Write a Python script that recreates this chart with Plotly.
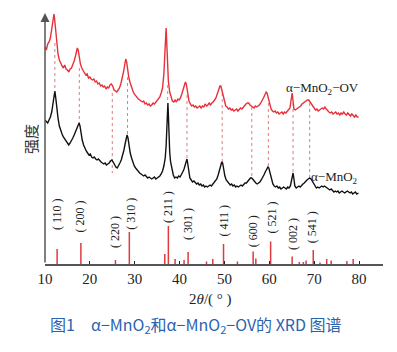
import plotly.graph_objects as go

# ---- data (2theta in degrees, intensity in arbitrary units) ----
red_curve = [
    (10.0,217),(10.3,214),(10.6,220),(10.9,222),(11.2,226),(11.5,236),(11.7,242),(11.9,249),(12.0,250),(12.1,247),
    (12.3,238),(12.5,226),(12.7,218),(12.9,210),(13.2,204),(13.5,200),(13.8,198),(14.1,196),(14.4,199),(14.7,195),
    (15.0,194),(15.3,192),(15.6,195),(15.9,196),(16.2,199),(16.5,203),(16.8,208),(17.0,213),(17.2,216),(17.4,214),
    (17.6,207),(17.9,200),(18.2,196),(18.5,193),(18.8,191),(19.1,189),(19.4,190),(19.7,186),(20.0,187),(20.3,185),
    (20.6,184),(20.9,185),(21.2,182),(21.5,183),(21.8,180),(22.1,181),(22.4,178),(22.7,179),(23.0,177),(23.3,178),
    (23.6,175),(23.9,177),(24.2,176),(24.5,179),(24.8,180),(25.1,178),(25.4,174),(25.7,173),(26.0,172),(26.3,174),
    (26.6,176),(26.9,180),(27.2,185),(27.5,192),(27.8,200),(28.0,205),(28.2,202),(28.4,194),(28.7,186),(29.0,181),
    (29.3,176),(29.6,173),(29.9,170),(30.2,168),(30.5,167),(30.8,165),(31.1,164),(31.4,163),(31.7,162),(32.0,163),
    (32.3,160),(32.6,161),(32.9,159),(33.2,160),(33.5,158),(33.8,159),(34.1,161),(34.4,160),(34.7,162),(35.0,163),
    (35.3,165),(35.6,167),(35.9,171),(36.2,176),(36.5,190),(36.7,205),(36.9,228),(37.0,236),(37.1,226),(37.3,200),
    (37.5,183),(37.8,172),(38.1,167),(38.4,163),(38.7,162),(39.0,164),(39.3,162),(39.6,165),(39.9,164),(40.2,166),
    (40.5,170),(40.8,174),(41.1,179),(41.3,182),(41.5,180),(41.8,172),(42.1,163),(42.4,160),(42.7,158),(43.0,159),
    (43.3,157),(43.6,158),(43.9,156),(44.2,157),(44.5,158),(44.8,156),(45.1,158),(45.4,157),(45.7,160),(46.0,158),
    (46.3,159),(46.6,161),(46.9,159),(47.2,161),(47.5,162),(47.8,164),(48.1,166),(48.4,170),(48.7,174),(49.0,178),
    (49.2,178),(49.4,174),(49.7,167),(50.0,161),(50.3,158),(50.6,157),(50.9,155),(51.2,156),(51.5,154),(51.8,155),
    (52.1,153),(52.4,154),(52.7,155),(53.0,153),(53.3,155),(53.6,156),(53.9,155),(54.2,157),(54.5,158),(54.8,160),
    (55.1,161),(55.4,161),(55.7,159),(56.0,158),(56.3,157),(56.6,156),(56.9,158),(57.2,157),(57.5,158),(57.8,159),
    (58.1,161),(58.4,163),(58.7,166),(59.0,169),(59.3,172),(59.5,171),(59.8,165),(60.1,159),(60.4,155),(60.7,153),
    (61.0,152),(61.3,153),(61.6,151),(61.9,152),(62.2,150),(62.5,151),(62.8,152),(63.1,150),(63.4,152),(63.7,151),
    (64.0,153),(64.3,154),(64.6,156),(64.8,162),(65.0,170),(65.1,171),(65.3,163),(65.5,155),(65.8,154),(66.1,155),
    (66.4,156),(66.7,157),(67.0,158),(67.3,160),(67.6,161),(67.9,162),(68.2,163),(68.5,164),(68.8,164),(69.1,162),
    (69.4,160),(69.7,157),(70.0,155),(70.3,154),(70.6,155),(70.9,153),(71.2,154),(71.5,155),(71.8,156),(72.1,155),
    (72.4,157),(72.7,155),(73.0,153),(73.3,152),(73.6,151),(73.9,152),(74.2,150),(74.5,151),(74.8,152),(75.1,150),
    (75.4,151),(75.7,149),(76.0,151),(76.3,150),(76.6,152),(76.9,150),(77.2,149),(77.5,151),(77.8,149),(78.1,148),
    (78.4,150),(78.7,148),(79.0,147),(79.3,149),(79.6,147),(79.9,147),
]

black_curve = [
    (10.0,144),(10.3,142),(10.6,141),(10.9,144),(11.2,147),(11.5,152),(11.8,160),(12.0,168),(12.2,173),(12.4,166),
    (12.6,155),(12.9,146),(13.2,138),(13.5,133),(13.8,130),(14.1,127),(14.4,125),(14.7,123),(15.0,120),(15.3,119),
    (15.6,121),(15.9,123),(16.2,126),(16.5,129),(16.8,132),(17.1,135),(17.4,139),(17.6,141),(17.8,138),(18.0,131),
    (18.3,124),(18.6,119),(18.9,115),(19.2,113),(19.5,111),(19.8,109),(20.1,110),(20.4,107),(20.7,106),(21.0,107),
    (21.3,105),(21.6,104),(21.9,105),(22.2,103),(22.5,102),(22.8,101),(23.1,100),(23.4,101),(23.7,99),(24.0,100),
    (24.3,101),(24.6,103),(24.9,104),(25.2,102),(25.5,99),(25.8,97),(26.1,96),(26.4,98),(26.7,101),(27.0,104),
    (27.3,108),(27.6,114),(27.9,121),(28.1,126),(28.3,129),(28.5,126),(28.7,118),(29.0,111),(29.3,106),(29.6,101),
    (29.9,98),(30.2,96),(30.5,94),(30.8,92),(31.1,91),(31.4,90),(31.7,89),(32.0,88),(32.3,89),(32.6,87),
    (32.9,86),(33.2,87),(33.5,86),(33.8,85),(34.1,86),(34.4,87),(34.7,85),(35.0,86),(35.3,87),(35.6,88),
    (35.9,90),(36.2,93),(36.5,98),(36.8,106),(37.0,118),(37.15,135),(37.3,155),(37.4,161),(37.5,150),(37.65,128),
    (37.8,112),(38.0,102),(38.3,94),(38.6,89),(38.9,86),(39.2,87),(39.5,86),(39.8,88),(40.1,87),(40.4,89),
    (40.7,92),(41.0,95),(41.3,100),(41.5,104),(41.65,105),(41.8,101),(42.0,94),(42.3,86),(42.6,84),(42.9,82),
    (43.2,83),(43.5,81),(43.8,80),(44.1,81),(44.4,79),(44.7,80),(45.0,78),(45.3,79),(45.6,77),(45.9,78),
    (46.2,77),(46.5,78),(46.8,79),(47.1,78),(47.4,80),(47.7,81),(48.0,83),(48.3,85),(48.6,89),(48.9,95),
    (49.2,100),(49.4,102),(49.6,101),(49.8,95),(50.1,88),(50.4,84),(50.7,82),(51.0,81),(51.3,79),(51.6,80),
    (51.9,78),(52.2,79),(52.5,77),(52.8,78),(53.1,77),(53.4,78),(53.7,79),(54.0,78),(54.3,80),(54.6,81),
    (54.9,81),(55.2,83),(55.5,84),(55.8,86),(56.1,86),(56.4,84),(56.7,82),(57.0,81),(57.3,80),(57.6,81),
    (57.9,82),(58.2,84),(58.5,86),(58.8,89),(59.1,92),(59.4,95),(59.7,97),(59.9,96),(60.2,90),(60.5,84),
    (60.8,80),(61.1,78),(61.4,77),(61.7,78),(62.0,76),(62.3,77),(62.6,75),(62.9,76),(63.2,77),(63.5,76),
    (63.8,75),(64.1,77),(64.4,76),(64.7,78),(64.9,82),(65.1,88),(65.3,91),(65.5,85),(65.7,78),(66.0,76),
    (66.3,77),(66.6,78),(66.9,77),(67.2,79),(67.5,80),(67.8,81),(68.1,83),(68.4,84),(68.7,85),(69.0,86),
    (69.3,85),(69.6,83),(69.9,80),(70.2,78),(70.5,76),(70.8,77),(71.1,76),(71.4,77),(71.7,78),(72.0,77),
    (72.3,78),(72.6,77),(72.9,76),(73.2,75),(73.5,74),(73.8,75),(74.1,73),(74.4,72),(74.7,73),(75.0,72),
    (75.3,73),(75.6,71),(75.9,72),(76.2,73),(76.5,72),(76.8,71),(77.1,72),(77.4,73),(77.7,72),(78.0,71),
    (78.3,72),(78.6,70),(78.9,71),(79.2,72),(79.5,70),(79.9,71),
]

# standard pattern sticks: position (deg), relative height
ref_pos = [12.7, 18.0, 25.7, 28.8, 36.7, 37.5, 39.0, 41.0, 41.9, 46.0, 47.4, 49.8, 52.9,
           56.4, 57.0, 60.3, 65.1, 66.7, 67.6, 68.2, 69.8, 71.3, 72.8, 73.8, 77.3, 78.7]
ref_height = [15, 21, 4, 32, 10, 38, 5, 4, 12, 2.5, 5, 20, 2.5,
              12.5, 5.5, 22.5, 7.5, 2, 2, 3.5, 14, 1.5, 5, 3.5, 3, 5]

# Miller indices labels
hkl_text = ["110", "200", "220", "310", "211", "301", "411", "600", "521", "002", "541"]
hkl_x = [12.7, 17.9, 25.6, 29.1, 37.4, 41.9, 50.0, 56.4, 60.5, 65.3, 69.6]
hkl_y = [50, 48, 32, 50, 57, 40, 44, 33, 46, 30, 37]

# dotted guide lines: position, top, bottom
guide_x = [12.2, 17.65, 25.0, 28.4, 37.35, 41.65, 49.5, 56.1, 59.8, 65.3, 69.0]
guide_top = [221, 196, 171, 187, 179, 169, 171, 157, 161, 161, 161]
guide_bot = [173, 141, 91, 126, 161, 106, 102, 86, 97, 91, 86]

x_ticks = [10, 20, 30, 40, 50, 60, 70, 80]

RED = "#e8303a"
SERIF = "Liberation Serif, Times New Roman, serif"
CJK = "Noto Sans CJK SC"

fig = go.Figure()

# guides
gx, gy = [], []
for x, t, b in zip(guide_x, guide_top, guide_bot):
    gx += [x, x, None]
    gy += [t, b, None]
fig.add_trace(go.Scatter(x=gx, y=gy, mode="lines",
                         line=dict(color="#ea7a7a", width=1, dash="dot"), hoverinfo="skip"))

# sticks
sx, sy = [], []
for p, h in zip(ref_pos, ref_height):
    sx += [p, p, None]
    sy += [0, h, None]
fig.add_trace(go.Scatter(x=sx, y=sy, mode="lines", line=dict(color="#e03a3e", width=1.5)))

rx, ry = zip(*red_curve)
bx, by = zip(*black_curve)
fig.add_trace(go.Scatter(x=rx, y=ry, mode="lines", line=dict(color=RED, width=1.4)))
fig.add_trace(go.Scatter(x=bx, y=by, mode="lines", line=dict(color="#111111", width=1.4)))

ann = []
for t, x, y in zip(hkl_text, hkl_x, hkl_y):
    ann.append(dict(x=x, y=y, xref="x", yref="y", text="( " + t + " )", showarrow=False,
                    textangle=-90, font=dict(family=SERIF, size=12, color="#222")))

ann.append(dict(x=71.8, y=176, xref="x", yref="y", text="α−MnO<sub>2</sub>−OV", showarrow=False,
                font=dict(family=SERIF, size=13, color="#222")))
ann.append(dict(x=74.6, y=87, xref="x", yref="y", text="α−MnO<sub>2</sub>", showarrow=False,
                font=dict(family=SERIF, size=13, color="#222")))

# y axis with arrow
ann.append(dict(x=10, y=251, xref="x", yref="y", ax=10, ay=0, axref="x", ayref="y", text="",
                showarrow=True, arrowhead=2, arrowsize=1.2, arrowwidth=1.5, arrowcolor="#555"))

ann.append(dict(x=-0.08, y=0.50, xref="paper", yref="paper", text="强度", showarrow=False,
                textangle=-90, font=dict(family=CJK, size=15, color="#333")))
ann.append(dict(x=0.491, y=-0.183, xref="paper", yref="paper", text="2<i>θ</i>/( ° )", showarrow=False,
                font=dict(family=SERIF, size=15, color="#222")))
ann.append(dict(x=0.447, y=-0.299, xref="paper", yref="paper",
                text="图1　α−MnO<sub>2</sub>和α−MnO<sub>2</sub>−OV的 XRD 图谱", showarrow=False,
                font=dict(family=CJK, size=16, color="#2a63b0")))

fig.update_layout(
    width=397, height=352, margin=dict(l=45, r=14, t=13, b=88),
    paper_bgcolor="white", plot_bgcolor="white", showlegend=False,
    annotations=ann,
    xaxis=dict(range=[10, 85.35], tickvals=x_ticks, ticks="inside", ticklen=3, tickwidth=1,
               tickcolor="#222", showline=True, linecolor="#555", linewidth=1.5,
               showgrid=False, zeroline=False,
               tickfont=dict(family=SERIF, size=15, color="#222")),
    yaxis=dict(range=[0, 251], showticklabels=False, showgrid=False, zeroline=False, showline=False,
               ticks=""),
)

fig.write_html("out.html")
